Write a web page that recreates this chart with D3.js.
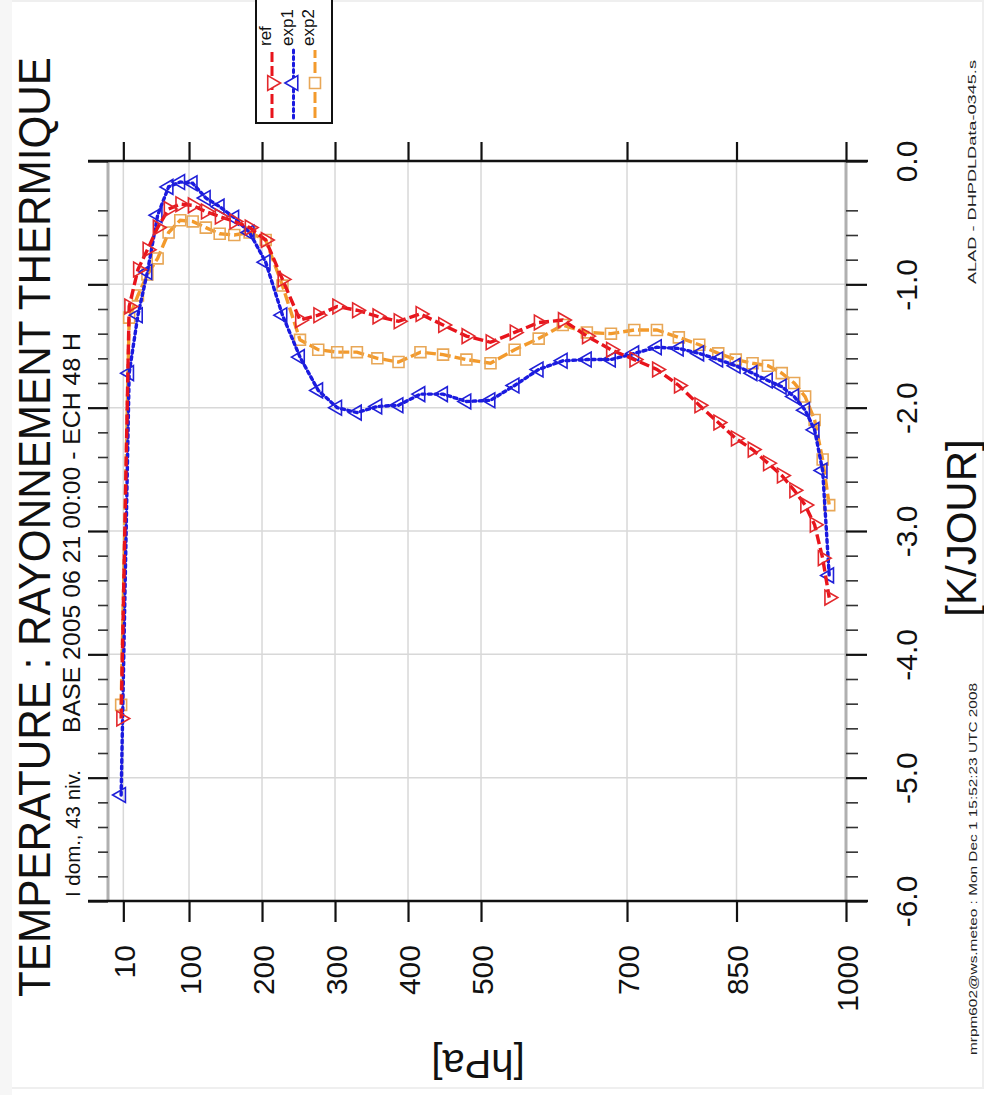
<!DOCTYPE html>
<html>
<head>
<meta charset="utf-8">
<script src="https://cdn.jsdelivr.net/npm/d3@7"></script>
<style>
  html, body { margin: 0; padding: 0; background: #fff; }
  svg { display: block; font-family: "Liberation Sans", Arial, Helvetica, sans-serif; }
</style>
</head>
<body>
<svg id="chart" width="984" height="1095"></svg>
<script>
// ---------------- data ----------------
const pressure = [7,18,30,43,57,72,88,105,123,142,162,183,205,228,252,277,303,330,358,387,417,448,480,513,546,579,612,645,678,710,741,771,799,825,849,872,893,912,929,944,957,968,977];
const ref  = [-4.52,-1.18,-0.88,-0.72,-0.54,-0.39,-0.35,-0.36,-0.41,-0.45,-0.49,-0.54,-0.64,-0.96,-1.29,-1.25,-1.18,-1.21,-1.26,-1.30,-1.24,-1.33,-1.42,-1.47,-1.39,-1.31,-1.29,-1.42,-1.53,-1.61,-1.69,-1.82,-1.98,-2.12,-2.25,-2.34,-2.45,-2.55,-2.67,-2.79,-2.95,-3.22,-3.54];
const exp1 = [-5.14,-1.72,-1.25,-0.90,-0.44,-0.21,-0.17,-0.18,-0.30,-0.37,-0.46,-0.58,-0.82,-1.25,-1.59,-1.86,-2.00,-2.04,-1.99,-1.98,-1.89,-1.89,-1.95,-1.94,-1.82,-1.69,-1.62,-1.61,-1.61,-1.56,-1.51,-1.52,-1.56,-1.61,-1.66,-1.72,-1.78,-1.83,-1.91,-2.02,-2.18,-2.51,-3.36];
const exp2 = [-4.41,-1.27,-1.09,-0.92,-0.79,-0.58,-0.48,-0.49,-0.54,-0.59,-0.60,-0.58,-0.64,-1.01,-1.45,-1.53,-1.55,-1.55,-1.60,-1.63,-1.55,-1.57,-1.61,-1.64,-1.53,-1.44,-1.33,-1.39,-1.40,-1.37,-1.37,-1.43,-1.49,-1.56,-1.61,-1.64,-1.66,-1.72,-1.80,-1.91,-2.10,-2.42,-2.79];
const seriesNames = ["ref", "exp1", "exp2"];
const pressureTicks = [10, 100, 200, 300, 400, 500, 700, 850, 1000];
const valueTicks = [0, -1, -2, -3, -4, -5, -6];
const valueMinorTicks = [-0.4,-0.6,-0.8,-1.2,-1.4,-1.6,-1.8,-2.2,-2.4,-2.6,-2.8,-3.2,-3.4,-3.6,-3.8,-4.2,-4.4,-4.6,-4.8,-5.2,-5.4,-5.6,-5.8];
const titleText = "TEMPERATURE : RAYONNEMENT THERMIQUE";
const subText1 = "BASE 2005 06 21 00:00 - ECH 48 H";
const subText2 = "I dom., 43 niv.";
const xLabel = "[hPa]";
const yLabel = "[K/JOUR]";
const sideText1 = "ALAD - DHPDLData-0345.s";
const sideText2 = "mrpm602@ws.meteo : Mon Dec  1 15:52:23 UTC 2008";

// ---------------- styles ----------------
const styles = {
  ref:  { color: "#e8141c", marker: "#e3282c", dash: "10,4", symbol: "triR" },
  exp1: { color: "#1a1ae0", marker: "#2020d8", dash: "3,3.5", symbol: "triL" },
  exp2: { color: "#f39a2c", marker: "#e8a757", dash: "11,4", symbol: "square" }
};
const dataBy = { ref, exp1, exp2 };

const svg = d3.select("#chart");

// faint page border like the reference
svg.append("rect").attr("x", 1).attr("y", 1).attr("width", 982).attr("height", 1087)
  .attr("fill", "none").attr("stroke", "#efefef").attr("stroke-width", 2);
svg.append("rect").attr("x", 0).attr("y", 0).attr("width", 12).attr("height", 1095).attr("fill", "#f6f6f6");

// ---------------- scales (screen is the rotated chart) ----------------
const x = d3.scaleLinear().domain([-11, 1000]).range([108, 846]);   // pressure -> horizontal
const y = d3.scaleLinear().domain([-6, 0]).range([901, 161]);        // K/jour -> vertical

// gridlines
const grid = svg.append("g").attr("stroke", "#d8d8d8").attr("stroke-width", 1.5);
grid.selectAll("line.gx").data(pressureTicks).join("line")
  .attr("x1", d => x(d)).attr("x2", d => x(d)).attr("y1", y(0)).attr("y2", y(-6));
grid.selectAll("line.gy").data(valueTicks.filter(d => d !== 0 && d !== -6)).join("line")
  .attr("class", "gy")
  .attr("x1", x(-11)).attr("x2", x(1000)).attr("y1", d => y(d)).attr("y2", d => y(d));

// frame side lines (gray)
svg.append("line").attr("x1", x(-11)).attr("x2", x(-11)).attr("y1", y(0)).attr("y2", y(-6))
  .attr("stroke", "#b0b0b0").attr("stroke-width", 3);
svg.append("line").attr("x1", x(1000)).attr("x2", x(1000)).attr("y1", y(0)).attr("y2", y(-6))
  .attr("stroke", "#b0b0b0").attr("stroke-width", 3);

// ---------------- axes ----------------
const fmt1 = d => d.toFixed(1);

// bottom pressure axis with labels
const axB = svg.append("g").attr("transform", `translate(0,${y(-6)})`)
  .call(d3.axisBottom(x).tickValues(pressureTicks).tickSize(21).tickFormat(d => String(d)));
axB.select(".domain").remove();
axB.selectAll(".tick line").attr("stroke", "#111").attr("stroke-width", 2.2);
axB.selectAll(".tick text")
  .attr("x", null).attr("y", null).attr("dy", null)
  .attr("text-anchor", "end")
  .attr("transform", "translate(11,44) rotate(-90)")
  .attr("font-size", 30).attr("fill", "#111")
  .style("font-family", '"Liberation Sans", Arial, sans-serif');

// top pressure ticks
const axT = svg.append("g").attr("transform", `translate(0,${y(0)})`)
  .call(d3.axisTop(x).tickValues(pressureTicks).tickSize(19).tickFormat(""));
axT.select(".domain").remove();
axT.selectAll(".tick line").attr("stroke", "#111").attr("stroke-width", 2.2);

// horizontal black axis lines (0 and -6)
[0, -6].forEach(v => {
  svg.append("line").attr("x1", 88).attr("x2", 868).attr("y1", y(v)).attr("y2", y(v))
    .attr("stroke", "#111").attr("stroke-width", 2.6);
});

// right value axis with labels
const axR = svg.append("g").attr("transform", `translate(${x(1000)},0)`)
  .call(d3.axisRight(y).tickValues(valueTicks).tickSize(21).tickFormat(fmt1));
axR.select(".domain").remove();
axR.selectAll(".tick line").attr("stroke", "#111").attr("stroke-width", 2.2);
axR.selectAll(".tick text")
  .attr("x", null).attr("y", null).attr("dy", null)
  .attr("text-anchor", "middle")
  .attr("transform", "translate(71,0) rotate(-90)")
  .attr("font-size", 30).attr("fill", "#111")
  .style("font-family", '"Liberation Sans", Arial, sans-serif');
const axRm = svg.append("g").attr("transform", `translate(${x(1000)},0)`)
  .call(d3.axisRight(y).tickValues(valueMinorTicks).tickSize(12).tickFormat(""));
axRm.select(".domain").remove();
axRm.selectAll(".tick line").attr("stroke", "#333").attr("stroke-width", 1.6);

// left value axis ticks
const axL = svg.append("g").attr("transform", `translate(${x(-11)},0)`)
  .call(d3.axisLeft(y).tickValues(valueTicks).tickSize(20).tickFormat(""));
axL.select(".domain").remove();
axL.selectAll(".tick line").attr("stroke", "#111").attr("stroke-width", 2.2);
const axLm = svg.append("g").attr("transform", `translate(${x(-11)},0)`)
  .call(d3.axisLeft(y).tickValues(valueMinorTicks).tickSize(10).tickFormat(""));
axLm.select(".domain").remove();
axLm.selectAll(".tick line").attr("stroke", "#333").attr("stroke-width", 1.6);

// ---------------- series ----------------
const line = d3.line().x(d => x(d[0])).y(d => y(d[1]));
function symbolPath(kind) {
  if (kind === "square") return { path: d3.symbol(d3.symbolSquare, 120)(), rot: 0 };
  return { path: d3.symbol(d3.symbolTriangle, 95)(), rot: kind === "triR" ? 90 : -90 };
}
const plot = svg.append("g");
["exp2", "exp1", "ref"].forEach(name => {
  const st = styles[name];
  const pts = pressure.map((p, i) => [p, dataBy[name][i]]);
  plot.append("path").datum(pts)
    .attr("d", line).attr("fill", "none")
    .attr("stroke", st.color).attr("stroke-width", 3.4)
    .attr("stroke-dasharray", st.dash)
    .attr("stroke-linecap", name === "exp1" ? "round" : "butt");
  const sp = symbolPath(st.symbol);
  plot.append("g").selectAll("path").data(pts).join("path")
    .attr("d", sp.path)
    .attr("transform", d => `translate(${x(d[0])},${y(d[1])}) rotate(${sp.rot})`)
    .attr("fill", "none").attr("stroke", st.marker).attr("stroke-width", 1.6);
});

// ---------------- legend ----------------
const leg = svg.append("g");
leg.append("rect").attr("x", 256).attr("y", -3).attr("width", 76).attr("height", 126)
  .attr("fill", "#fff").attr("stroke", "#111").attr("stroke-width", 2);
const legX = d3.scalePoint().domain(seriesNames).range([272, 315]);
seriesNames.forEach(name => {
  const st = styles[name];
  const lx = legX(name);
  leg.append("line").attr("x1", lx).attr("x2", lx).attr("y1", 118).attr("y2", 50)
    .attr("stroke", st.color).attr("stroke-width", 3)
    .attr("stroke-dasharray", st.dash)
    .attr("stroke-linecap", name === "exp1" ? "round" : "butt");
  const sp = symbolPath(st.symbol);
  leg.append("path").attr("d", sp.path)
    .attr("transform", `translate(${lx},83) rotate(${sp.rot})`)
    .attr("fill", "#fff").attr("stroke", st.marker).attr("stroke-width", 1.6);
  leg.append("text").attr("transform", `translate(${lx - 1},46) rotate(-90)`)
    .attr("font-size", 17).attr("fill", "#111").text(name);
});

// ---------------- texts ----------------
svg.append("text").attr("transform", "translate(50,997) rotate(-90)")
  .attr("textLength", 940).attr("lengthAdjust", "spacingAndGlyphs")
  .attr("font-size", 44).attr("fill", "#111").text(titleText);
svg.append("text").attr("transform", "translate(80,733) rotate(-90)")
  .attr("textLength", 400).attr("lengthAdjust", "spacingAndGlyphs")
  .attr("font-size", 23).attr("fill", "#111").text(subText1);
svg.append("text").attr("transform", "translate(80,897) rotate(-90)")
  .attr("textLength", 127).attr("lengthAdjust", "spacingAndGlyphs")
  .attr("font-size", 20).attr("fill", "#111").text(subText2);

svg.append("text").attr("transform", "translate(478,1050) rotate(180)")
  .attr("text-anchor", "middle").attr("font-size", 40).attr("fill", "#111").text(xLabel);
svg.append("text").attr("transform", "translate(976,528) rotate(-90)")
  .attr("text-anchor", "middle").attr("font-size", 42).attr("fill", "#111").text(yLabel);

svg.append("text").attr("transform", "translate(976,284) rotate(-90)")
  .attr("textLength", 224).attr("lengthAdjust", "spacingAndGlyphs")
  .attr("font-size", 11).attr("fill", "#222").text(sideText1);
svg.append("text").attr("transform", "translate(977,1055) rotate(-90)")
  .attr("textLength", 372).attr("lengthAdjust", "spacingAndGlyphs")
  .attr("font-size", 11).attr("fill", "#222").text(sideText2);
</script>
</body>
</html>
